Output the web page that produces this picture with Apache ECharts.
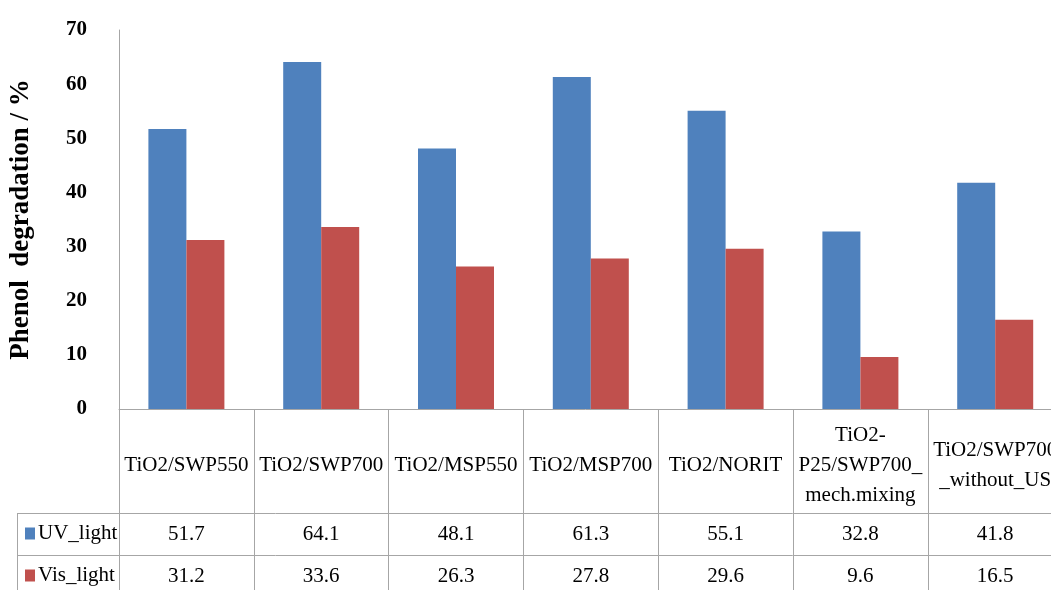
<!DOCTYPE html>
<html>
<head>
<meta charset="utf-8">
<script src="https://cdn.jsdelivr.net/npm/echarts@6/dist/echarts.min.js"></script>
<style>
html,body{margin:0;padding:0;background:#fff;}
#c{width:1051px;height:590px;}
</style>
</head>
<body>
<div id="c"></div>
<script>
var categories = ['TiO2/SWP550','TiO2/SWP700','TiO2/MSP550','TiO2/MSP700','TiO2/NORIT','TiO2-\nP25/SWP700_\nmech.mixing','TiO2/SWP700\n_without_US'];
var seriesNames = ['UV_light','Vis_light'];
var uvLight = [51.7, 64.1, 48.1, 61.3, 55.1, 32.8, 41.8];
var visLight = [31.2, 33.6, 26.3, 27.8, 29.6, 9.6, 16.5];
var yTicks = {min: 0, max: 70, interval: 10};
var yName = 'Phenol  degradation / %';

var FONT = 'Liberation Serif';
var LINE = '#a6a6a6';
var gridLeft = 119, gridTop = 30, plotBottom = 409, colW = 134.8;
var headerH = 104, rowH = 42, tableLeft = 17, H = 590;

function legendFor(i) {
  return {
    orient: 'horizontal', left: tableLeft + 8, top: plotBottom + headerH + rowH * i + rowH / 2 - 11,
    itemWidth: 10, itemHeight: 12, icon: 'rect', padding: 0,
    textStyle: {fontFamily: FONT, fontSize: 21, color: '#000', padding: [0, 0, 0, -2]},
    data: [seriesNames[i]]
  };
}

var chart = echarts.init(document.getElementById('c'));
chart.setOption({
  backgroundColor: '#fff',
  animation: false,
  grid: {left: gridLeft, top: gridTop, height: plotBottom - gridTop, width: colW * categories.length, outerBoundsMode: 'none', containLabel: false},
  legend: [legendFor(0), legendFor(1)],
  xAxis: [
    {
      type: 'category', data: categories, position: 'bottom',
      axisLine: {show: true, lineStyle: {color: LINE, width: 1}},
      axisTick: {show: true, length: H - plotBottom, interval: 0, lineStyle: {color: LINE, width: 1}},
      axisLabel: {interval: 0, fontFamily: FONT, fontSize: 21, color: '#000', lineHeight: 30, verticalAlign: 'middle', margin: 56}
    },
    {
      type: 'category', data: categories, position: 'bottom', offset: 0,
      axisLine: {show: false}, axisTick: {show: false},
      axisLabel: {interval: 0, fontFamily: FONT, fontSize: 21, color: '#000', verticalAlign: 'middle', margin: headerH + rowH / 2,
        formatter: function (v, i) { return String(uvLight[i]); }}
    },
    {
      type: 'category', data: categories, position: 'bottom', offset: 0,
      axisLine: {show: false}, axisTick: {show: false},
      axisLabel: {interval: 0, fontFamily: FONT, fontSize: 21, color: '#000', verticalAlign: 'middle', margin: headerH + rowH * 1.5,
        formatter: function (v, i) { return String(visLight[i]); }}
    }
  ],
  yAxis: {
    type: 'value', min: yTicks.min, max: yTicks.max, interval: yTicks.interval,
    name: yName, nameLocation: 'middle', nameRotate: 90, nameGap: 84,
    nameTextStyle: {fontFamily: FONT, fontSize: 27, fontWeight: 'bold', color: '#000'},
    axisLine: {show: true, lineStyle: {color: LINE, width: 1}},
    axisTick: {show: false},
    splitLine: {show: false},
    axisLabel: {fontFamily: FONT, fontSize: 21, fontWeight: 'bold', color: '#000', margin: 32}
  },
  series: [
    {name: seriesNames[0], type: 'bar', data: uvLight, barWidth: 38, barGap: '0%', itemStyle: {color: '#4f81bd'}},
    {name: seriesNames[1], type: 'bar', data: visLight, barWidth: 38, barGap: '0%', itemStyle: {color: '#c0504d'}}
  ],
  graphic: [
    {type: 'line', silent: true, shape: {x1: tableLeft, y1: plotBottom + headerH + 0.5, x2: 1051, y2: plotBottom + headerH + 0.5}, style: {stroke: LINE, lineWidth: 1}},
    {type: 'line', silent: true, shape: {x1: tableLeft, y1: plotBottom + headerH + rowH + 0.5, x2: 1051, y2: plotBottom + headerH + rowH + 0.5}, style: {stroke: LINE, lineWidth: 1}},
    {type: 'line', silent: true, shape: {x1: tableLeft + 0.5, y1: plotBottom + headerH, x2: tableLeft + 0.5, y2: H}, style: {stroke: LINE, lineWidth: 1}}
  ]
});
</script>
</body>
</html>
